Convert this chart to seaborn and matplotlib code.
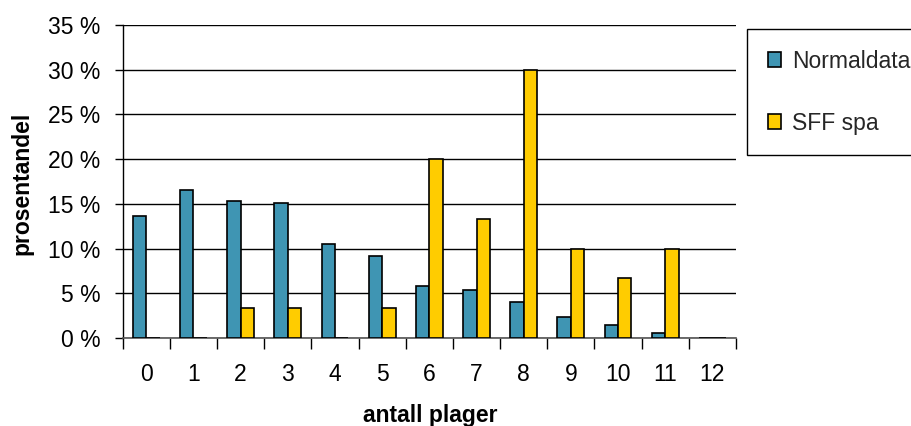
import matplotlib
matplotlib.use("Agg")
import matplotlib.pyplot as plt
from matplotlib.ticker import FixedLocator, FuncFormatter
import seaborn as sns
import pandas as pd

# Number of complaints (antall plager) and share of respondents in each group
categories = [0, 1, 2, 3, 4, 5, 6, 7, 8, 9, 10, 11, 12]
normaldata = [13.6, 16.5, 15.3, 15.1, 10.5, 9.2, 5.8, 5.4, 4.0, 2.3, 1.5, 0.6, 0.0]
sff_spa = [0.0, 0.0, 3.33, 3.33, 0.0, 3.33, 20.0, 13.33, 30.0, 10.0, 6.67, 10.0, 0.0]
series_names = ["Normaldata", "SFF spa"]
y_ticks = [0, 5, 10, 15, 20, 25, 30, 35]

df = pd.DataFrame({
    "antall": [str(c) for c in categories] * 2,
    "andel": normaldata + sff_spa,
    "gruppe": [series_names[0]] * len(categories) + [series_names[1]] * len(categories),
})

sns.set_theme(style="white")
plt.rcParams["font.family"] = ["Liberation Sans", "DejaVu Sans"]

fig = plt.figure(figsize=(9.12, 4.26), dpi=100)
ax = fig.add_axes([0.1345, 0.2066, 0.6725, 0.7347])

palette = {series_names[0]: "#3F95B3", series_names[1]: "#FFCC00"}
sns.barplot(data=df, x="antall", y="andel", hue="gruppe", palette=palette,
            width=0.57, edgecolor="black", linewidth=1.2, saturation=1,
            ax=ax, zorder=3)

ax.set_xlim(-0.5, len(categories) - 0.5)
ax.set_ylim(0, 35)

# horizontal gridlines at every 5 %
ax.yaxis.set_major_locator(FixedLocator(y_ticks))
ax.yaxis.set_major_formatter(FuncFormatter(lambda v, p: f"{v:.0f} %"))
ax.grid(axis="y", color="black", linewidth=1.0, zorder=0)
ax.set_axisbelow(True)

# category boundary ticks below the axis, labels centred on categories
ax.set_xticks(range(len(categories)))
ax.set_xticklabels([str(c) for c in categories])
ax.set_xticks([i - 0.5 for i in range(len(categories) + 1)], minor=True)
ax.tick_params(axis="x", which="major", length=0, pad=18, labelsize=16.5, colors="black")
ax.tick_params(axis="x", which="minor", length=8, width=1, color="black", direction="out", bottom=True)
ax.tick_params(axis="y", which="major", length=6, width=1, color="black", direction="out",
               left=True, pad=10, labelsize=16.5, labelcolor="black")

for side in ("top", "right"):
    ax.spines[side].set_visible(False)
ax.spines["left"].set_color("black")
ax.spines["left"].set_linewidth(1.0)
ax.spines["bottom"].set_color("#555555")
ax.spines["bottom"].set_linewidth(1.2)

ax.set_xlabel("antall plager", fontsize=16.5, fontweight="bold", color="black")
ax.set_ylabel("prosentandel", fontsize=16.5, fontweight="bold", color="black")
ax.xaxis.set_label_coords(0.501, -0.212)
ax.yaxis.set_label_coords(-0.146, 0.494)

ax.get_legend().remove()
handles = [plt.Rectangle((0, 0), 1, 1, facecolor=palette[n], edgecolor="black", linewidth=1.2)
           for n in series_names]
leg = fig.legend(handles, series_names, loc="upper left",
                 bbox_to_anchor=(747 / 912, 1 - 29 / 426), borderaxespad=0,
                 fontsize=16.5, frameon=True, fancybox=False, framealpha=1,
                 edgecolor="black", handlelength=0.6, handleheight=0.6,
                 handletextpad=0.45, labelspacing=1.7, borderpad=0.9)
leg.get_frame().set_linewidth(1.0)

fig.savefig("out.png", dpi=100)
